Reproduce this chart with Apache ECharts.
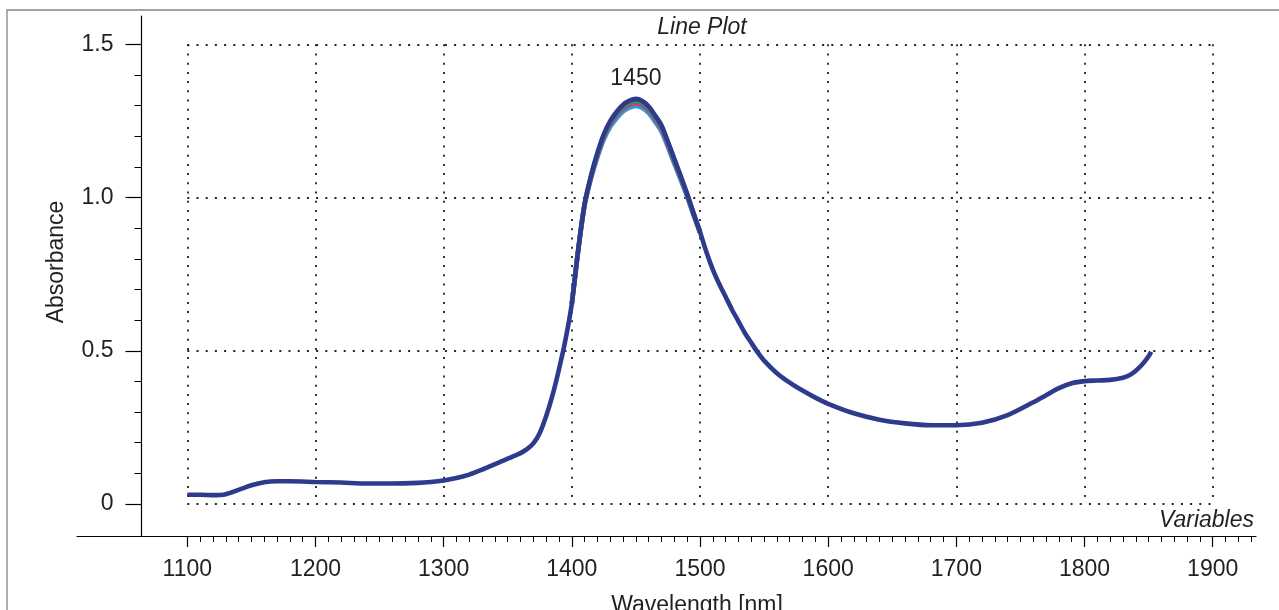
<!DOCTYPE html>
<html>
<head>
<meta charset="utf-8">
<title>Line Plot</title>
<script src="https://cdn.jsdelivr.net/npm/echarts@6/dist/echarts.min.js"></script>
<style>
  html, body { margin: 0; padding: 0; background: #fff; }
  #chart { width: 1279px; height: 610px; }
</style>
</head>
<body>
<div id="chart"></div>
<script>
// main spectrum (dark blue), wavelength in nm
const wavelength = [
  1100, 1110, 1120, 1130, 1140, 1150, 1160, 1170, 1180, 1200, 1220, 1240, 1260, 1280, 1290,
  1300, 1310, 1320, 1330, 1340, 1345, 1350, 1355, 1360, 1365, 1370, 1375, 1380, 1385, 1390, 1395,
  1400, 1405, 1410, 1415, 1420, 1425, 1430, 1435, 1440, 1445, 1450, 1455, 1460, 1465, 1470,
  1475, 1480, 1485, 1490, 1495, 1500, 1505, 1510, 1515, 1520, 1525, 1530, 1535, 1540, 1545,
  1550, 1560, 1570, 1580, 1590, 1600, 1620, 1640, 1660, 1680, 1700, 1720, 1740, 1760, 1770,
  1780, 1790, 1800, 1810, 1820, 1830, 1835, 1840, 1845, 1850, 1852
]
const absBlue = [
  0.030, 0.030, 0.029, 0.032, 0.046, 0.061, 0.071, 0.074, 0.074, 0.072, 0.070, 0.067, 0.067, 0.069, 0.072,
  0.077, 0.085, 0.096, 0.112, 0.130, 0.139, 0.148, 0.157, 0.166, 0.179, 0.198, 0.232, 0.287, 0.356, 0.440, 0.535,
  0.654, 0.830, 0.980, 1.072, 1.146, 1.207, 1.250, 1.280, 1.303, 1.316, 1.322, 1.315, 1.297, 1.268, 1.235,
  1.182, 1.126, 1.070, 1.012, 0.949, 0.888, 0.822, 0.765, 0.718, 0.676, 0.634, 0.596, 0.558, 0.526, 0.495,
  0.468, 0.427, 0.396, 0.370, 0.347, 0.327, 0.296, 0.275, 0.263, 0.257, 0.257, 0.265, 0.290, 0.332, 0.355,
  0.378, 0.394, 0.401, 0.403, 0.405, 0.412, 0.420, 0.435, 0.455, 0.482, 0.497
]

// the other samples only differ around the peak
const peakWavelength = [
  1400, 1405, 1410, 1415, 1420, 1425, 1430, 1435, 1440, 1445, 1450,
  1455, 1460, 1465, 1470, 1475, 1480, 1485, 1490, 1495, 1500
]
const absGreen = [
  0.654, 0.830, 0.979, 1.069, 1.142, 1.202, 1.244, 1.274, 1.296, 1.309, 1.315,
  1.308, 1.290, 1.262, 1.229, 1.177, 1.121, 1.066, 1.009, 0.947, 0.888
]
const absMagenta = [
  0.654, 0.829, 0.977, 1.066, 1.138, 1.197, 1.239, 1.268, 1.290, 1.302, 1.308,
  1.301, 1.284, 1.256, 1.223, 1.171, 1.116, 1.062, 1.006, 0.945, 0.886
]
const absCyan = [
  0.654, 0.828, 0.974, 1.062, 1.132, 1.190, 1.231, 1.259, 1.281, 1.293, 1.299,
  1.292, 1.275, 1.247, 1.215, 1.164, 1.110, 1.057, 1.002, 0.942, 0.885
]

const xTickLabels = [1100, 1200, 1300, 1400, 1500, 1600, 1700, 1800, 1900]
const yTickLabels = [0, 0.5, 1.0, 1.5]
const peakLabel = '1450'

// layout (pixels)
const plot = { left: 187.3, right: 1212.7, top: 44.3, bottom: 504 }
const frame = { left: 77, right: 1256, top: 16, bottom: 536, yLineX: 141.5 }
const W = 1279
const H = 610
const font = '"Liberation Sans", Arial, Helvetica, sans-serif'
const ink = '#231f20'

const pxPerNm = (plot.right - plot.left) / 800
const pxPerAbs = (plot.bottom - plot.top) / 1.5
const xMin = 1100 - (plot.left - frame.left) / pxPerNm
const xMax = 1900 + (frame.right - plot.right) / pxPerNm
const yMin = -(frame.bottom - plot.bottom) / pxPerAbs
const yMax = 1.5 + (plot.top - frame.top) / pxPerAbs

let xMinor = []
for (let v = 1110; v <= 1930; v += 10) {
  if (v % 100 !== 0) xMinor.push(v)
}
let yMinor = []
for (let i = 1; i < 15; i++) {
  if (i % 5 !== 0) yMinor.push(i / 10)
}

const zip = (xs, ys) => xs.map((x, i) => [x, ys[i]])

const dotted = { type: [2, 7.2], color: '#222', width: 1.8 }

function lineSeries (name, xs, ys, color, extra) {
  return Object.assign({
    name: name,
    type: 'line',
    xAxisIndex: 0,
    yAxisIndex: 0,
    data: zip(xs, ys),
    smooth: 0.3,
    showSymbol: false,
    clip: false,
    lineStyle: { color: color, width: 4.6 },
    itemStyle: { color: color },
    emphasis: { disabled: true }
  }, extra || {})
}

let chart = echarts.init(document.getElementById('chart'), null, { renderer: 'canvas' })
let option = {
  animation: false,
  backgroundColor: '#fff',
  grid: [
    {
      left: plot.left, right: W - plot.right, top: plot.top, bottom: H - plot.bottom,
      outerBoundsMode: 'none', containLabel: false
    },
    {
      left: frame.left, right: W - frame.right, top: frame.top, bottom: H - frame.bottom,
      outerBoundsMode: 'none', containLabel: false
    }
  ],
  xAxis: [
    {
      // dotted grid only
      type: 'value', gridIndex: 0, position: 'bottom', min: 1100, max: 1900, interval: 100,
      axisLine: { show: false, onZero: false }, axisTick: { show: false }, axisLabel: { show: false },
      splitLine: { show: true, showMinLine: true, showMaxLine: true, lineStyle: dotted }
    },
    {
      type: 'value', gridIndex: 1, position: 'bottom', min: xMin, max: xMax,
      axisLine: { show: true, onZero: false, lineStyle: { color: '#000', width: 1.2 } },
      axisTick: { show: true, customValues: xTickLabels, length: 11, lineStyle: { color: '#000', width: 1.2 } },
      axisLabel: {
        show: true, customValues: xTickLabels, margin: 22,
        color: ink, fontSize: 23, fontFamily: font,
        formatter: v => String(v)
      },
      splitLine: { show: false }
    },
    {
      type: 'value', gridIndex: 1, position: 'bottom', min: xMin, max: xMax,
      axisLine: { show: false, onZero: false },
      axisTick: { show: true, customValues: xMinor, length: 6, lineStyle: { color: '#000', width: 1 } },
      axisLabel: { show: false },
      splitLine: { show: false }
    }
  ],
  yAxis: [
    {
      type: 'value', gridIndex: 0, position: 'left', min: 0, max: 1.5, interval: 0.5,
      axisLine: { show: false, onZero: false }, axisTick: { show: false }, axisLabel: { show: false },
      splitLine: { show: true, showMinLine: true, showMaxLine: true, lineStyle: dotted }
    },
    {
      type: 'value', gridIndex: 1, position: 'left', min: yMin, max: yMax,
      offset: frame.left - frame.yLineX,
      axisLine: { show: true, onZero: false, lineStyle: { color: '#000', width: 1.2 } },
      axisTick: { show: true, customValues: yTickLabels, length: 16, lineStyle: { color: '#000', width: 1.2 } },
      axisLabel: {
        show: true, customValues: yTickLabels, margin: 28,
        color: ink, fontSize: 23, fontFamily: font,
        formatter: v => (v === 0 ? '0' : v.toFixed(1))
      },
      splitLine: { show: false }
    },
    {
      type: 'value', gridIndex: 1, position: 'left', min: yMin, max: yMax,
      offset: frame.left - frame.yLineX,
      axisLine: { show: false, onZero: false },
      axisTick: { show: true, customValues: yMinor, length: 7, lineStyle: { color: '#000', width: 1 } },
      axisLabel: { show: false },
      splitLine: { show: false }
    }
  ],
  series: [
    lineSeries('Sample 4', peakWavelength, absCyan, '#2a9fd8'),
    lineSeries('Sample 3', peakWavelength, absMagenta, '#c2407e'),
    lineSeries('Sample 2', peakWavelength, absGreen, '#3d8a66'),
    lineSeries('Sample 1', wavelength, absBlue, '#2e3b8c', {
      markPoint: {
        symbol: 'circle',
        symbolSize: 0,
        silent: true,
        data: [{ type: 'max' }],
        label: {
          show: true, position: 'top', distance: 9,
          formatter: peakLabel,
          color: ink, fontSize: 23, fontFamily: font
        }
      }
    })
  ],
  graphic: [
    {
      type: 'rect', silent: true, z: -1,
      shape: { x: 7, y: 10, width: 1300, height: 640 },
      style: { fill: 'none', stroke: '#858585', lineWidth: 1.3 }
    },
    {
      type: 'text', x: 702, y: 28, silent: true,
      style: { text: 'Line Plot', align: 'center', verticalAlign: 'middle',
        fill: ink, font: 'italic 23px ' + font }
    },
    {
      type: 'text', x: 1254, y: 521, silent: true,
      style: { text: 'Variables', align: 'right', verticalAlign: 'middle',
        fill: ink, font: 'italic 23px ' + font }
    },
    {
      type: 'text', x: 57, y: 262, rotation: Math.PI / 2, silent: true,
      style: { text: 'Absorbance', align: 'center', verticalAlign: 'middle',
        fill: ink, font: '23px ' + font }
    },
    {
      type: 'text', x: 697, y: 606, silent: true,
      style: { text: 'Wavelength [nm]', align: 'center', verticalAlign: 'middle',
        fill: ink, font: '23px ' + font }
    }
  ]
}
chart.setOption(option)
</script>
</body>
</html>
